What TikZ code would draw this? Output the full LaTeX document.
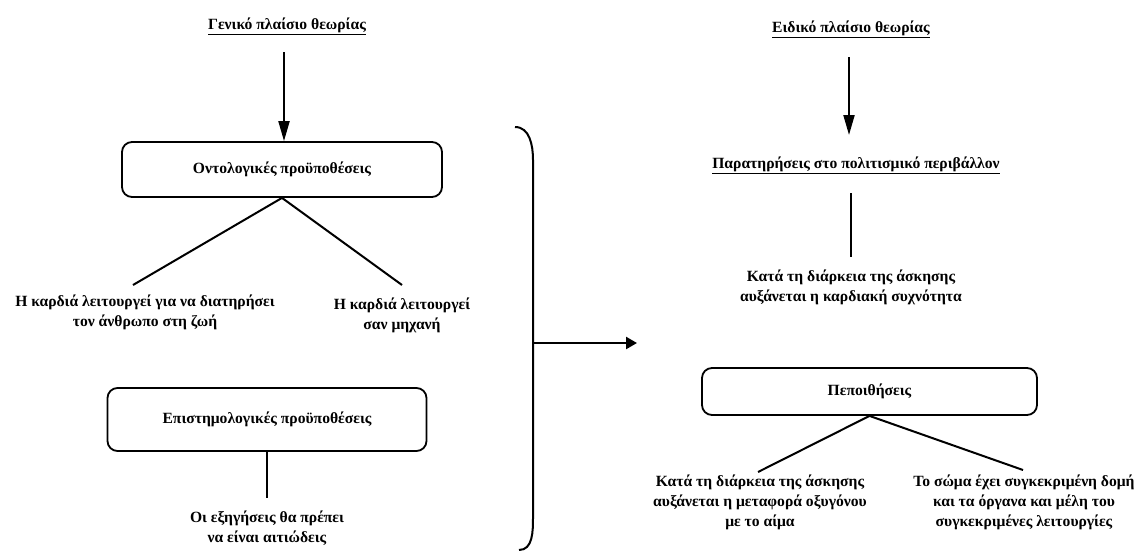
\documentclass[tikz,border=0pt]{standalone}
\usepackage{fontspec}
\setmainfont{Liberation Serif}
\usetikzlibrary{arrows.meta}
\begin{document}
\begin{tikzpicture}[x=1pt,y=-1pt,
  lbl/.style={font=\fontsize{15.6}{20}\selectfont\bfseries, align=center, inner sep=0pt},
  rbox/.style={draw, rounded corners=10pt, line width=1.8pt, font=\fontsize{15.6}{18}\selectfont\bfseries},
  conn/.style={line width=2pt},
  arr/.style={line width=2pt, -{Triangle[length=20pt,width=11pt]}},
  harr/.style={line width=2.4pt, -{Triangle[length=11pt,width=12pt]}}]
\useasboundingbox (0,0) rectangle (1139,552);
% left column
\node[lbl] (g) at (287,26) {\underline{Γενικό πλαίσιο θεωρίας}};
\node[rbox, minimum width=320pt, minimum height=55pt] (o) at (282,169.5) {Οντολογικές προϋποθέσεις};
\coordinate (a1s) at (284,52);
\draw[arr] (a1s) -- (a1s |- o.north);
\node[lbl] (h1) at (145,312) {Η καρδιά λειτουργεί για να διατηρήσει\\τον άνθρωπο στη ζωή};
\node[lbl] (h2) at (402,315) {Η καρδιά λειτουργεί\\σαν μηχανή};
\coordinate (l1) at (133,285);
\coordinate (l2) at (402,285);
\draw[conn] (o.south) -- (l1);
\draw[conn] (o.south) -- (l2);
\node[rbox, minimum width=319pt, minimum height=63pt] (e) at (267,419.5) {Επιστημολογικές προϋποθέσεις};
\coordinate (l3) at (267,498);
\draw[conn] (e.south) -- (l3);
\node[lbl] (x) at (267,528) {Οι εξηγήσεις θα πρέπει\\να είναι αιτιώδεις};
% bracket and arrow
\coordinate (bt) at (515,127);
\coordinate (bm) at (533,343);
\coordinate (bb) at (519,550);
\draw[line width=2pt] (bt) to[out=0,in=90] (533,160) -- (533,517) to[out=-90,in=0] (bb);
\coordinate (ae) at (637,343);
\draw[harr] (bm) -- (ae);
% right column
\node[lbl] (s) at (851,29) {\underline{Ειδικό πλαίσιο θεωρίας}};
\coordinate (a2s) at (849,57);
\coordinate (a2e) at (849,135);
\draw[arr] (a2s) -- (a2e);
\node[lbl] (p) at (856,165) {\underline{Παρατηρήσεις στο πολιτισμικό περιβάλλον}};
\coordinate (l4s) at (851,193);
\coordinate (l4e) at (851,257);
\draw[conn] (l4s) -- (l4e);
\node[lbl] (k) at (851,287) {Κατά τη διάρκεια της άσκησης\\αυξάνεται η καρδιακή συχνότητα};
\node[rbox, minimum width=335pt, minimum height=47pt] (b) at (869.5,391.5) {Πεποιθήσεις};
\coordinate (l5) at (758,472);
\coordinate (l6) at (1023,470);
\draw[conn] (b.south) -- (l5);
\draw[conn] (b.south) -- (l6);
\node[lbl] (m) at (760,502) {Κατά τη διάρκεια της άσκησης\\αυξάνεται η μεταφορά οξυγόνου\\με το αίμα};
\node[lbl] (n) at (1024,502) {Το σώμα έχει συγκεκριμένη δομή\\και τα όργανα και μέλη του\\συγκεκριμένες λειτουργίες};
\end{tikzpicture}
\end{document}
